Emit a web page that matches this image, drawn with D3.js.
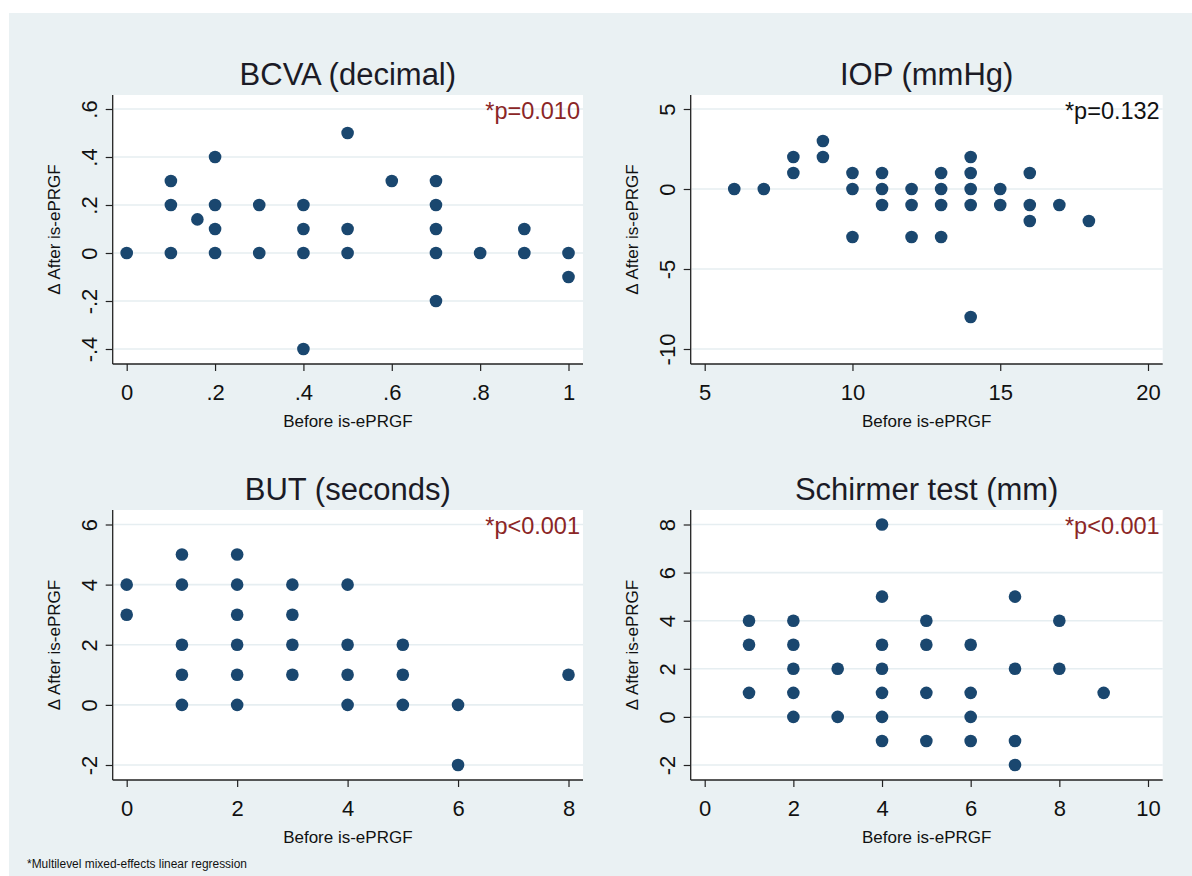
<!DOCTYPE html>
<html>
<head>
<meta charset="utf-8">
<title>Before / after is-ePRGF</title>
<script src="https://cdn.jsdelivr.net/npm/d3@7"></script>
<style>
  body { margin: 0; background: #ffffff; }
  svg { display: block; font-family: Arial, "Liberation Sans", sans-serif; }
</style>
</head>
<body>

<div id="chart"></div>

<script>
// BCVA (decimal)
var bcvaBefore = [0, .1, .1, .1, .16, .2, .2, .2, .2, .3, .3, .4, .4, .4, .4, .5, .5, .5, .6, .7, .7, .7, .7, .7, .8, .9, .9, 1, 1];
var bcvaDelta  = [0, .3, .2, 0, .14, .4, .2, .1, 0, .2, 0, .2, .1, 0, -.4, .5, .1, 0, .3, .3, .2, .1, 0, -.2, 0, .1, 0, 0, -.1];
var bcvaXTicks = [0, .2, .4, .6, .8, 1];
var bcvaXLabels = ["0", ".2", ".4", ".6", ".8", "1"];
var bcvaYTicks = [-.4, -.2, 0, .2, .4, .6];
var bcvaYLabels = ["-.4", "-.2", "0", ".2", ".4", ".6"];

// IOP (mmHg)
var iopBefore = [6, 7, 8, 8, 9, 9, 10, 10, 10, 11, 11, 11, 12, 12, 12, 13, 13, 13, 13, 14, 14, 14, 14, 14, 15, 15, 16, 16, 16, 17, 18];
var iopDelta  = [0, 0, 2, 1, 3, 2, 1, 0, -3, 1, 0, -1, 0, -1, -3, 1, 0, -1, -3, 2, 1, 0, -1, -8, 0, -1, 1, -1, -2, -1, -2];
var iopXTicks = [5, 10, 15, 20];
var iopXLabels = ["5", "10", "15", "20"];
var iopYTicks = [-10, -5, 0, 5];
var iopYLabels = ["-10", "-5", "0", "5"];

// BUT (seconds)
var butBefore = [0, 0, 1, 1, 1, 1, 1, 2, 2, 2, 2, 2, 2, 3, 3, 3, 3, 4, 4, 4, 4, 5, 5, 5, 6, 6, 8];
var butDelta  = [4, 3, 5, 4, 2, 1, 0, 5, 4, 3, 2, 1, 0, 4, 3, 2, 1, 4, 2, 1, 0, 2, 1, 0, 0, -2, 1];
var butXTicks = [0, 2, 4, 6, 8];
var butXLabels = ["0", "2", "4", "6", "8"];
var butYTicks = [-2, 0, 2, 4, 6];
var butYLabels = ["-2", "0", "2", "4", "6"];

// Schirmer test (mm)
var schBefore = [1, 1, 1, 2, 2, 2, 2, 2, 3, 3, 4, 4, 4, 4, 4, 4, 4, 5, 5, 5, 5, 6, 6, 6, 6, 7, 7, 7, 7, 8, 8, 9];
var schDelta  = [4, 3, 1, 4, 3, 2, 1, 0, 2, 0, 8, 5, 3, 2, 1, 0, -1, 4, 3, 1, -1, 3, 1, 0, -1, 5, 2, -1, -2, 4, 2, 1];
var schXTicks = [0, 2, 4, 6, 8, 10];
var schXLabels = ["0", "2", "4", "6", "8", "10"];
var schYTicks = [-2, 0, 2, 4, 6, 8];
var schYLabels = ["-2", "0", "2", "4", "6", "8"];

var titles = ["BCVA (decimal)", "IOP (mmHg)", "BUT (seconds)", "Schirmer test (mm)"];
var pValues = ["*p=0.010", "*p=0.132", "*p<0.001", "*p<0.001"];
var pSignificant = [true, false, true, true];

var xTitle = "Before is-ePRGF";
var yTitle = "\u0394 After is-ePRGF";
var footnote = "*Multilevel mixed-effects linear regression";

var WIDTH = 1192, HEIGHT = 876;
var BG = "#eaf1f3";
var DOT = "#1a476f";
var GRID = "#e6eef1";

// plot region of each panel, in pixels
var cols = [
    {left: 112.7, right: 583, x0: 126.7, x1: 568.5},
    {left: 690.7, right: 1162.7, x0: 704.7, x1: 1148}
];
var rows = [
    {top: 95, bottom: 364, y0: 349, y1: 109},
    {top: 510, bottom: 780, y0: 765, y1: 524.5}
];

var panels = [
    {xs: bcvaBefore, ys: bcvaDelta, xt: bcvaXTicks, xl: bcvaXLabels, yt: bcvaYTicks, yl: bcvaYLabels, col: 0, row: 0},
    {xs: iopBefore, ys: iopDelta, xt: iopXTicks, xl: iopXLabels, yt: iopYTicks, yl: iopYLabels, col: 1, row: 0},
    {xs: butBefore, ys: butDelta, xt: butXTicks, xl: butXLabels, yt: butYTicks, yl: butYLabels, col: 0, row: 1},
    {xs: schBefore, ys: schDelta, xt: schXTicks, xl: schXLabels, yt: schYTicks, yl: schYLabels, col: 1, row: 1}
];

var svg = d3.select("#chart").append("svg")
    .attr("width", WIDTH)
    .attr("height", HEIGHT);

svg.append("rect")
    .attr("x", 0).attr("y", 0)
    .attr("width", WIDTH).attr("height", HEIGHT)
    .attr("fill", "#ffffff");

svg.append("rect")
    .attr("x", 9).attr("y", 13)
    .attr("width", WIDTH - 9).attr("height", HEIGHT - 13)
    .attr("fill", BG);

panels.forEach(function (p, i) {
    var c = cols[p.col], r = rows[p.row];

    var x = d3.scaleLinear()
        .domain([p.xt[0], p.xt[p.xt.length - 1]])
        .range([c.x0, c.x1]);
    var y = d3.scaleLinear()
        .domain([p.yt[0], p.yt[p.yt.length - 1]])
        .range([r.y0, r.y1]);

    var g = svg.append("g").attr("class", "panel");

    // white plot region
    g.append("rect")
        .attr("x", c.left).attr("y", r.top)
        .attr("width", c.right - c.left).attr("height", r.bottom - r.top)
        .attr("fill", "#ffffff");

    // horizontal grid lines
    g.selectAll("line.grid")
        .data(p.yt)
        .enter().append("line")
        .attr("class", "grid")
        .attr("x1", c.left + 1).attr("x2", c.right)
        .attr("y1", function (d) { return y(d); })
        .attr("y2", function (d) { return y(d); })
        .attr("stroke", GRID)
        .attr("stroke-width", 1.6);

    // points
    var pts = p.xs.map(function (v, k) { return [v, p.ys[k]]; });
    g.selectAll("circle")
        .data(pts)
        .enter().append("circle")
        .attr("cx", function (d) { return x(d[0]); })
        .attr("cy", function (d) { return y(d[1]); })
        .attr("r", 6.3)
        .attr("fill", DOT);

    // x axis
    var xAxis = g.append("g")
        .attr("transform", "translate(0," + r.bottom + ")")
        .call(d3.axisBottom(x)
            .tickValues(p.xt)
            .tickFormat(function (d, k) { return p.xl[k]; })
            .tickSize(7)
            .tickPadding(0));
    xAxis.select(".domain").remove();
    xAxis.selectAll(".tick line").attr("stroke", "#222").attr("stroke-width", 1.2);
    xAxis.selectAll(".tick text")
        .attr("y", 36).attr("dy", 0)
        .attr("font-size", 22)
        .attr("fill", "#111");

    // y axis, labels rotated like Stata
    var yAxis = g.append("g")
        .attr("transform", "translate(" + c.left + ",0)")
        .call(d3.axisLeft(y)
            .tickValues(p.yt)
            .tickFormat(function (d, k) { return p.yl[k]; })
            .tickSize(7)
            .tickPadding(0));
    yAxis.select(".domain").remove();
    yAxis.selectAll(".tick line").attr("stroke", "#222").attr("stroke-width", 1.2);
    yAxis.selectAll(".tick text")
        .attr("x", 0).attr("y", 0).attr("dy", 0)
        .attr("text-anchor", "middle")
        .attr("transform", "translate(-16,0) rotate(-90)")
        .attr("font-size", 22)
        .attr("fill", "#111");

    // axis lines spanning the whole plot region
    g.append("line")
        .attr("x1", c.left).attr("x2", c.left)
        .attr("y1", r.top).attr("y2", r.bottom)
        .attr("stroke", "#222").attr("stroke-width", 1.3);
    g.append("line")
        .attr("x1", c.left).attr("x2", c.right)
        .attr("y1", r.bottom).attr("y2", r.bottom)
        .attr("stroke", "#222").attr("stroke-width", 1.3);

    var midX = (c.left + c.right) / 2;

    // panel title
    g.append("text")
        .attr("x", midX).attr("y", r.top - 10)
        .attr("text-anchor", "middle")
        .attr("font-size", 31)
        .attr("fill", "#1b1b26")
        .text(titles[i]);

    // p value
    g.append("text")
        .attr("x", c.right - 3).attr("y", r.top + 24)
        .attr("text-anchor", "end")
        .attr("font-size", 23.5)
        .attr("fill", pSignificant[i] ? "#8b2626" : "#111")
        .text(pValues[i]);

    // axis titles
    g.append("text")
        .attr("x", midX).attr("y", r.bottom + 63)
        .attr("text-anchor", "middle")
        .attr("font-size", 17)
        .attr("fill", "#111")
        .text(xTitle);

    g.append("text")
        .attr("transform", "translate(" + (c.left - 53) + "," + ((r.top + r.bottom) / 2) + ") rotate(-90)")
        .attr("text-anchor", "middle")
        .attr("font-size", 17)
        .attr("fill", "#111")
        .text(yTitle);
});

svg.append("text")
    .attr("x", 27).attr("y", 868)
    .attr("font-size", 12)
    .attr("textLength", 220)
    .attr("lengthAdjust", "spacingAndGlyphs")
    .attr("fill", "#111")
    .text(footnote);
</script>

</body>
</html>
